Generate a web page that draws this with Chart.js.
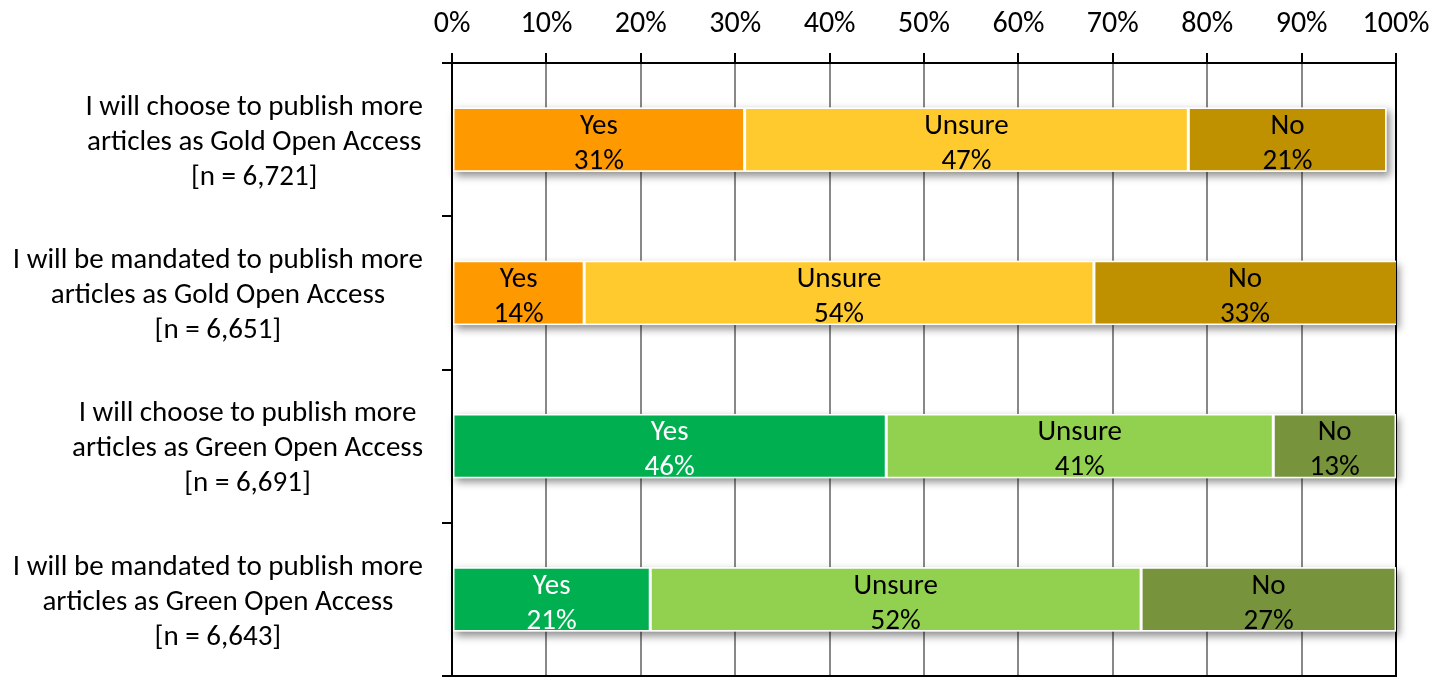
<!DOCTYPE html>
<html>
<head>
<meta charset="utf-8">
<script src="https://cdn.jsdelivr.net/npm/chart.js@4.4.0/dist/chart.umd.min.js"></script>
<style>
  html, body { margin: 0; padding: 0; background: #fff; }
  #wrap { width: 1452px; height: 677px; }
</style>
</head>
<body>
<div id="wrap"><canvas id="oaChart"></canvas></div>
<script>
let questions = [
  ['I will choose to publish more', 'articles as Gold Open Access', '[n = 6,721]'],
  ['I will be mandated to publish more', 'articles as Gold Open Access', '[n = 6,651]'],
  ['I will choose to publish more', 'articles as Green Open Access', '[n = 6,691]'],
  ['I will be mandated to publish more', 'articles as Green Open Access', '[n = 6,643]']
];
let answers = ['Yes', 'Unsure', 'No'];
let yesValues = [31, 14, 46, 21];
let unsureValues = [47, 54, 41, 52];
let noValues = [21, 33, 13, 27];
let xTickLabels = ['0%', '10%', '20%', '30%', '40%', '50%', '60%', '70%', '80%', '90%', '100%'];

// gold rows first, green rows after
let yesColors = ['#ff9900', '#ff9900', '#00b050', '#00b050'];
let unsureColors = ['#ffca2e', '#ffca2e', '#92d050', '#92d050'];
let noColors = ['#bf9000', '#bf9000', '#77933c', '#77933c'];
let yesTextColors = ['#000', '#000', '#fff', '#fff'];

let fontFamily = 'Carlito, Lato, "Open Sans", sans-serif';
let fontSize = 29;

// soft drop shadow under each whole bar
let barShadow = {
  id: 'barShadow',
  beforeDatasetsDraw(chart) {
    let ctx = chart.ctx;
    let area = chart.chartArea;
    let first = chart.getDatasetMeta(0).data;
    let last = chart.getDatasetMeta(chart.data.datasets.length - 1).data;
    ctx.save();
    ctx.shadowColor = 'rgba(0,0,0,0.45)';
    ctx.shadowBlur = 8;
    ctx.shadowOffsetX = 3;
    ctx.shadowOffsetY = 4;
    ctx.fillStyle = '#fff';
    for (let i = 0; i < first.length; i++) {
      let p = first[i].getProps(['y', 'base', 'height'], true);
      let right = Math.min(last[i].getProps(['x'], true).x, area.right);
      ctx.fillRect(p.base, p.y - p.height / 2, right - p.base, p.height);
    }
    ctx.restore();
  }
};

// "Yes / 31%" style labels inside the segments
let segmentLabels = {
  id: 'segmentLabels',
  afterDatasetsDraw(chart) {
    let ctx = chart.ctx;
    let area = chart.chartArea;
    ctx.save();
    ctx.font = fontSize + 'px ' + fontFamily;
    ctx.textAlign = 'center';
    ctx.textBaseline = 'middle';
    chart.data.datasets.forEach(function (ds, d) {
      let meta = chart.getDatasetMeta(d);
      meta.data.forEach(function (bar, i) {
        let p = bar.getProps(['x', 'y', 'base'], true);
        let left = Math.min(p.base, p.x);
        let right = Math.min(Math.max(p.base, p.x), area.right);
        let cx = (left + right) / 2;
        ctx.fillStyle = ds.textColors[i];
        ctx.fillText(ds.label, cx, p.y - 13);
        ctx.fillText(ds.data[i] + '%', cx, p.y + 22);
      });
    });
    ctx.restore();
  }
};

// question text, each block centred on its widest line
let questionLabels = {
  id: 'questionLabels',
  afterDraw(chart) {
    let ctx = chart.ctx;
    let yScale = chart.scales.y;
    let rightEdge = yScale.right - 29;
    ctx.save();
    ctx.font = fontSize + 'px ' + fontFamily;
    ctx.fillStyle = '#000';
    ctx.textAlign = 'center';
    ctx.textBaseline = 'middle';
    questions.forEach(function (lines, i) {
      let cy = yScale.getPixelForValue(i) + 3;
      let maxW = 0;
      lines.forEach(function (l) { maxW = Math.max(maxW, ctx.measureText(l).width); });
      let cx = rightEdge - maxW / 2;
      lines.forEach(function (l, j) {
        ctx.fillText(l, cx, cy + (j - 1) * 35);
      });
    });
    ctx.restore();
  }
};

// closing line along the bottom of the plot
let plotFrame = {
  id: 'plotFrame',
  afterDraw(chart) {
    let ctx = chart.ctx;
    let area = chart.chartArea;
    ctx.save();
    ctx.strokeStyle = '#000';
    ctx.lineWidth = 2;
    ctx.beginPath();
    ctx.moveTo(area.left - 1, area.bottom);
    ctx.lineTo(area.right + 1, area.bottom);
    ctx.stroke();
    ctx.restore();
  }
};

let datasets = [
  { label: answers[0], data: yesValues, backgroundColor: yesColors, textColors: yesTextColors },
  { label: answers[1], data: unsureValues, backgroundColor: unsureColors, textColors: ['#000', '#000', '#000', '#000'] },
  { label: answers[2], data: noValues, backgroundColor: noColors, textColors: ['#000', '#000', '#000', '#000'] }
];
datasets.forEach(function (ds) {
  ds.borderColor = '#fff';
  ds.borderWidth = 1.5;
  ds.borderSkipped = false;
  ds.barPercentage = 0.42;
  ds.categoryPercentage = 1;
});

let chart = new Chart(document.querySelector('#oaChart'), {
  type: 'bar',
  data: {
    labels: questions,
    datasets: datasets
  },
  plugins: [barShadow, segmentLabels, questionLabels, plotFrame],
  options: {
    indexAxis: 'y',
    responsive: true,
    maintainAspectRatio: false,
    animation: false,
    layout: { padding: { left: 0, right: 56, top: 0, bottom: 1 } },
    plugins: {
      legend: { display: false },
      tooltip: { enabled: false }
    },
    scales: {
      x: {
        position: 'top',
        stacked: true,
        min: 0,
        max: 100,
        afterFit: function (s) { s.height = 63; },
        ticks: {
          stepSize: 10,
          color: '#000',
          padding: 11,
          font: { family: fontFamily, size: 30 },
          callback: function (v, i) { return xTickLabels[i]; }
        },
        grid: {
          color: function (c) { return c.index === 10 ? '#000' : '#888'; },
          lineWidth: 2,
          tickLength: 10,
          tickColor: '#000'
        },
        border: { color: '#000', width: 2 }
      },
      y: {
        stacked: true,
        afterFit: function (s) { s.width = 452; },
        ticks: { display: false },
        grid: {
          drawOnChartArea: false,
          tickLength: 10,
          tickColor: '#000',
          lineWidth: 2
        },
        border: { color: '#000', width: 2 }
      }
    }
  }
});
</script>
</body>
</html>
